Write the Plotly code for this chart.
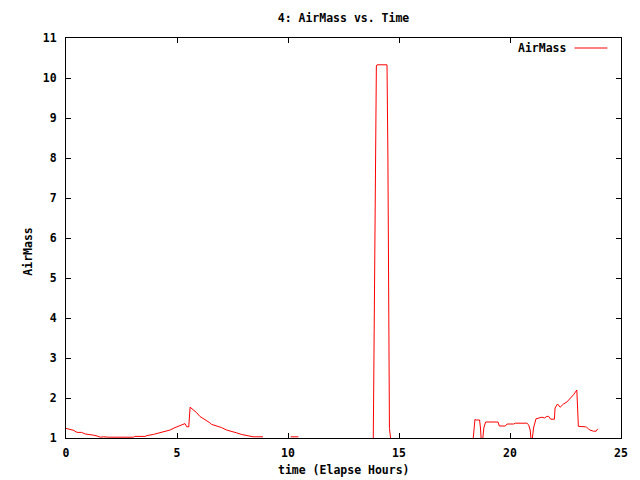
import plotly.graph_objects as go

# Elapsed time (hours); None marks gaps where the value is below the plotted range
time_h = [0.0, 0.13, 0.35, 0.5, 0.7, 0.87, 1.1, 1.25, 1.4, 1.55, 1.7, 1.92, 3.04, 3.1, 3.57, 3.65,
          3.94, 4.24, 4.54, 4.69, 4.91, 5.06, 5.21, 5.36, 5.44, 5.53, 5.59, 5.73, 5.89, 6.03, 6.18,
          6.33, 6.48, 6.56, 6.78, 7.01, 7.23, 7.46, 7.68, 7.90, 8.13, 8.43, 8.87, None,
          10.12, 10.47, None,
          13.84, 13.87, 13.93, 13.98, 14.01, 14.46, 14.50, 14.54, 14.57, 14.64, None,
          18.33, 18.42, 18.48, 18.63, 18.67, 18.71, 18.76, 18.82, 18.90, 19.46, 19.52, 19.79,
          19.87, 20.17, 20.24, 20.76, 20.84, 20.91, 20.95, 21.0, 21.06, 21.12, 21.17, 21.44,
          21.55, 21.66, 21.74, 21.83, 22.0, 22.03, 22.14, 22.26, 22.41, 22.56, 22.71, 22.86,
          23.01, 23.08, 23.4, 23.45, 23.53, 23.6, 23.76, 23.88, 23.95]
airmass = [1.24, 1.22, 1.19, 1.14, 1.14, 1.10, 1.09, 1.07, 1.05, 1.02, 1.03, 1.02, 1.02, 1.04, 1.04, 1.06,
           1.09, 1.14, 1.18, 1.20, 1.26, 1.29, 1.33, 1.36, 1.28, 1.28, 1.77, 1.71, 1.63, 1.54, 1.49,
           1.44, 1.38, 1.34, 1.30, 1.26, 1.20, 1.17, 1.13, 1.09, 1.07, 1.03, 1.03, None,
           1.03, 1.03, None,
           0.9, 3.33, 7.99, 10.30, 10.33, 10.33, 8.05, 3.55, 1.24, 0.9, None,
           0.9, 1.46, 1.45, 1.45, 1.25, 0.9, 0.9, 1.25, 1.40, 1.40, 1.30, 1.30,
           1.35, 1.35, 1.37, 1.37, 1.33, 1.20, 0.95, 0.95, 1.25, 1.40, 1.48, 1.52,
           1.50, 1.54, 1.54, 1.47, 1.47, 1.75, 1.85, 1.77, 1.85, 1.90, 1.98, 2.08,
           2.20, 1.29, 1.28, 1.27, 1.23, 1.20, 1.17, 1.17, 1.23]

x_ticks = [0, 5, 10, 15, 20, 25]
y_ticks = [1, 2, 3, 4, 5, 6, 7, 8, 9, 10, 11]

FONT = "DejaVu Sans Mono"
FS = 11.5

fig = go.Figure()
fig.add_trace(go.Scatter(x=time_h, y=airmass, mode="lines", name="AirMass",
                         line=dict(color="#ff0000", width=1), connectgaps=False,
                         showlegend=False))

axis_common = dict(showline=True, linecolor="black", linewidth=1, mirror="ticks",
                   ticks="inside", ticklen=5, tickcolor="black", tickwidth=1,
                   showgrid=False, zeroline=False,
                   tickfont=dict(family=FONT, size=FS, color="black", weight="bold"))

fig.update_xaxes(range=[0, 25], tickvals=x_ticks, ticktext=[str(v) for v in x_ticks],
                 ticklabelstandoff=4, **axis_common)
fig.update_yaxes(range=[1, 11], tickvals=y_ticks, ticktext=[str(v) for v in y_ticks],
                 ticklabelstandoff=6, **axis_common)

fig.update_layout(
    width=640, height=480,
    margin=dict(l=66, r=17, t=38, b=42),
    paper_bgcolor="white", plot_bgcolor="white",
    font=dict(family=FONT, size=FS, color="black"),
    title=dict(text="4: AirMass vs. Time", x=0.5, xref="paper", xanchor="center",
               y=1 - 18 / 480, yref="container", yanchor="middle",
               font=dict(family=FONT, size=FS, color="black", weight="bold")),
)

# axis titles
fig.add_annotation(text="time (Elapse Hours)", xref="paper", yref="paper", x=0.5, y=-0.079,
                   xanchor="center", yanchor="middle", showarrow=False,
                   font=dict(family=FONT, size=FS, color="black", weight="bold"))
fig.add_annotation(text="AirMass", xref="paper", yref="paper", x=-0.069, y=0.465,
                   xanchor="center", yanchor="middle", textangle=-90, showarrow=False,
                   font=dict(family=FONT, size=FS, color="black", weight="bold"))

# gnuplot-style key: text then line sample
fig.add_annotation(text="AirMass", xref="paper", yref="paper", x=(569 - 65.5) / 557.2,
                   y=(438.3 - 48.5) / 400, xanchor="right", yanchor="middle", showarrow=False,
                   font=dict(family=FONT, size=FS, color="black", weight="bold"))
fig.add_shape(type="line", xref="paper", yref="paper",
              x0=(576 - 65.5) / 557.2, x1=(609 - 65.5) / 557.2,
              y0=(438.3 - 48.3) / 400, y1=(438.3 - 48.3) / 400,
              line=dict(color="#ff0000", width=1))

fig.write_html("out.html")
